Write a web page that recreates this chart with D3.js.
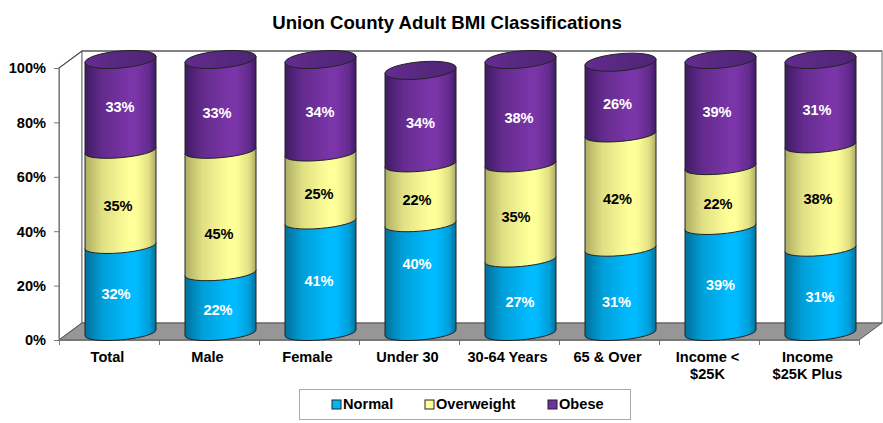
<!DOCTYPE html>
<html><head><meta charset="utf-8">
<script src="https://cdn.jsdelivr.net/npm/d3@7"></script>
<style>html,body{margin:0;padding:0;background:#fff}svg{display:block}text{font-family:"Liberation Sans",Arial,sans-serif;font-weight:bold}</style>
</head><body><svg id="c" width="883" height="423"></svg>
<script>
const title = "Union County Adult BMI Classifications";
const categories = ["Total","Male","Female","Under 30","30-64 Years","65 & Over","Income <|$25K","Income|$25K Plus"];
const seriesNames = ["Normal","Overweight","Obese"];
const normal = [32,22,41,40,27,31,39,31];
const overweight = [35,45,25,22,35,42,22,38];
const obese = [33,33,34,34,38,26,39,31];
const yTicks = [0,20,40,60,80,100];
const labelNudgeY = [[6,9,2],[8,23,8],[5,8,6],[-13,7,6],[7,6,7],[12,9,6],[6,8,-1],[7,3,8]];
const labelNudgeX = [[-4.5,-2.5,-0.5],[-2.5,-1.5,-3.5],[-1.5,-1.5,-0.5],[-3.5,-3.5,0],[-0.5,-4.5,-1.5],[-4,-3,-3],[0,-2.5,-3.5],[-0.5,-2.5,-3.5]];

const svg = d3.select("#c");
const seriesVals = [normal,overweight,obese];
const fills = [["#00709c","#00bbff"],["#adad62","#ffff99"],["#3f1a63","#7a35a8"]];
const defs = svg.append("defs");
fills.forEach((f,i)=>{
  const g = defs.append("linearGradient").attr("id","g"+i);
  [[0,f[0]],[.25,d3.interpolateRgb(f[0],f[1])(.62)],[.62,f[1]],[.72,f[1]],[.9,d3.interpolateRgb(f[0],f[1])(.62)],[1,f[0]]]
    .forEach(s=>g.append("stop").attr("offset",s[0]).attr("stop-color",s[1]));
});
const topG = defs.append("linearGradient").attr("id","top");
[[0,"#642c92"],[.5,"#57287f"],[1,"#4e2475"]].forEach(s=>topG.append("stop").attr("offset",s[0]).attr("stop-color",s[1]));

const depthX=23, depthY=17;
const x = d3.scaleBand().domain(d3.range(categories.length)).range([59,859]);
const y = d3.scaleLinear().domain([0,100]).range([340,68]);
const wall = "#808080";
svg.append("path").attr("fill","#fff").attr("stroke",wall).attr("stroke-width",1.2)
  .attr("d",`M${59} ${y(0)}L${59} ${y(100)}L${59+depthX} ${y(100)-depthY}L${59+depthX} ${y(0)-depthY}Z`);
svg.append("path").attr("fill","#fff").attr("stroke",wall).attr("stroke-width",1.2)
  .attr("d",`M${59+depthX} ${y(0)-depthY}V${y(100)-depthY}H${859+depthX}V${y(0)-depthY}Z`);
svg.append("path").attr("fill","none").attr("stroke","#444").attr("stroke-width",1)
  .attr("d",`M${59} ${y(100)}L${59+depthX} ${y(100)-depthY}H${859+depthX}`);
svg.append("path").attr("fill","#969696").attr("stroke","#555").attr("stroke-width",1)
  .attr("d",`M59 ${y(0)}L${59+depthX} ${y(0)-depthY}H${859+depthX}L859 ${y(0)}Z`);
const yAxis = d3.axisLeft(y).tickValues(yTicks).tickSize(5).tickFormat(d=>d+"%");
const ya = svg.append("g").attr("transform","translate(59,0)").call(yAxis);
ya.selectAll("path,line").attr("stroke","#777");
ya.selectAll("text").attr("x",-13).attr("dy","0.33em").attr("font-size",14.6).attr("fill","#000");
const xa = svg.append("g").attr("transform",`translate(0,${y(0)})`)
  .call(d3.axisBottom(d3.scaleLinear().domain([0,8]).range([59,859])).ticks(8).tickSize(5).tickFormat(""));
xa.selectAll("path,line").attr("stroke","#777");
categories.forEach((c,i)=>{
  const t = svg.append("text").attr("y",362).attr("text-anchor","middle").attr("font-size",14.6).attr("fill","#000");
  c.split("|").forEach((s,k)=>t.append("tspan").attr("x",x(i)+x.bandwidth()/2-1.5).attr("dy",k?16.5:0).text(s));
});
const rx=35.5, ry=8.5, rot=-5, lift=3, lowRy=7, lowShift=1.4;
const baseY = y(0)-8.5;
const ys = v=>baseY-(y(0)-y(v));
categories.forEach((c,i)=>{
  const cx = x(i)+x.bandwidth()/2+11.5;
  const L=cx-rx, R=cx+rx;
  let acc=0;
  seriesVals.forEach((vals,s)=>{
    const a=acc, b=acc+vals[i];
    acc=b;
    const y0=ys(a), y1=ys(b);
    const topShift = s<2 ? lowShift : 0;
    svg.append("path").attr("fill",`url(#g${s})`).attr("stroke","#222").attr("stroke-width",1)
      .attr("d",`M${L} ${y1+lift+topShift}L${L} ${y0+lift+lowShift}A${rx} ${lowRy} ${rot} 0 0 ${R} ${y0-lift+lowShift}L${R} ${y1-lift+topShift}A${rx} ${lowRy} ${rot} 0 0 ${L} ${y1+lift+topShift}Z`);
  });
  const yt=ys(acc);
  svg.append("path").attr("fill","url(#top)").attr("stroke","#222").attr("stroke-width",1)
    .attr("d",`M${L} ${yt+lift}A${rx} ${ry} ${rot} 1 1 ${R} ${yt-lift}A${rx} ${ry} ${rot} 1 1 ${L} ${yt+lift}Z`);
  acc=0;
  seriesVals.forEach((vals,s)=>{
    const mid=acc+vals[i]/2; acc+=vals[i];
    svg.append("text").attr("x",cx+labelNudgeX[i][s]).attr("y",ys(mid)+labelNudgeY[i][s]).attr("dy","0.36em")
      .attr("text-anchor","middle").attr("font-size",14.6).attr("fill",s==1?"#000":"#fff").text(vals[i]+"%");
  });
});
svg.append("text").attr("x",447).attr("y",29).attr("text-anchor","middle").attr("font-size",18.6).attr("fill","#000").text(title);
svg.append("rect").attr("x",299.5).attr("y",389.5).attr("width",331).attr("height",30).attr("fill","#fff").attr("stroke","#aaa").attr("stroke-width",1);
const legendFill=["#00b8f2","#ffff99","#7030a0"], lx=[332,425,548], tx=[343,436,559];
seriesNames.forEach((n,i)=>{
  svg.append("rect").attr("x",lx[i]).attr("y",400).attr("width",9).attr("height",9).attr("fill",legendFill[i]).attr("stroke","#222");
  svg.append("text").attr("x",tx[i]).attr("y",409).attr("font-size",14.6).attr("fill","#000").text(n);
});
</script></body></html>
